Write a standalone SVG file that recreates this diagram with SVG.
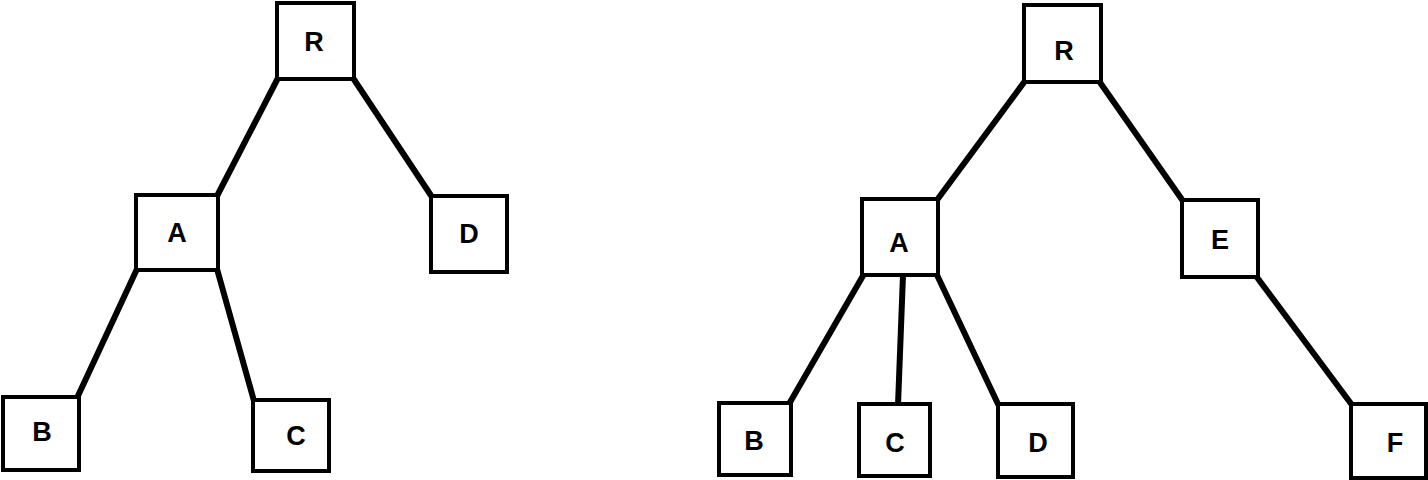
<svg xmlns="http://www.w3.org/2000/svg" width="1428" height="480" viewBox="0 0 1428 480">
<style>
.box{fill:#fff;stroke:#000;stroke-width:4}
.lbl{font-family:"Liberation Sans",Arial,sans-serif;font-weight:bold;font-size:27px;text-anchor:middle;fill:#000}
.edge{stroke:#000;stroke-width:6;fill:none;stroke-linecap:round}
</style>
<rect width="1428" height="480" fill="#fff"/>
<g id="connectors">
<line class="edge" x1="278" y1="78" x2="217" y2="196"/>
<line class="edge" x1="353" y1="78" x2="432" y2="197"/>
<line class="edge" x1="137" y1="269" x2="77" y2="398"/>
<line class="edge" x1="217" y1="269" x2="254" y2="401"/>
<line class="edge" x1="1025" y1="81" x2="937" y2="200"/>
<line class="edge" x1="1099" y1="81" x2="1183" y2="201"/>
<line class="edge" x1="864" y1="274" x2="789" y2="404"/>
<line class="edge" x1="903" y1="275" x2="898" y2="405"/>
<line class="edge" x1="937" y1="275" x2="998" y2="404"/>
<line class="edge" x1="1256" y1="276" x2="1352" y2="405"/>
</g>
<g id="L-R"><rect class="box" x="277" y="3" width="77" height="76"/><text class="lbl" x="314" y="51">R</text></g>
<g id="L-A"><rect class="box" x="136" y="195" width="82" height="75"/><text class="lbl" x="177" y="242">A</text></g>
<g id="L-D"><rect class="box" x="431" y="196" width="76" height="76"/><text class="lbl" x="469" y="243">D</text></g>
<g id="L-B"><rect class="box" x="3" y="397" width="76" height="73"/><text class="lbl" x="42" y="441">B</text></g>
<g id="L-C"><rect class="box" x="253" y="400" width="76" height="71"/><text class="lbl" x="296" y="445">C</text></g>
<g id="R-R"><rect class="box" x="1024" y="5" width="77" height="77"/><text class="lbl" x="1064" y="60">R</text></g>
<g id="R-A"><rect class="box" x="862" y="199" width="76" height="76"/><text class="lbl" x="899" y="252">A</text></g>
<g id="R-E"><rect class="box" x="1182" y="200" width="76" height="77"/><text class="lbl" x="1220" y="249">E</text></g>
<g id="R-B"><rect class="box" x="719" y="403" width="72" height="72"/><text class="lbl" x="754" y="450">B</text></g>
<g id="R-C"><rect class="box" x="859" y="404" width="71" height="72"/><text class="lbl" x="895" y="452">C</text></g>
<g id="R-D"><rect class="box" x="998" y="404" width="75" height="73"/><text class="lbl" x="1038" y="452">D</text></g>
<g id="R-F"><rect class="box" x="1351" y="404" width="75" height="74"/><text class="lbl" x="1395" y="452">F</text></g>
</svg>
